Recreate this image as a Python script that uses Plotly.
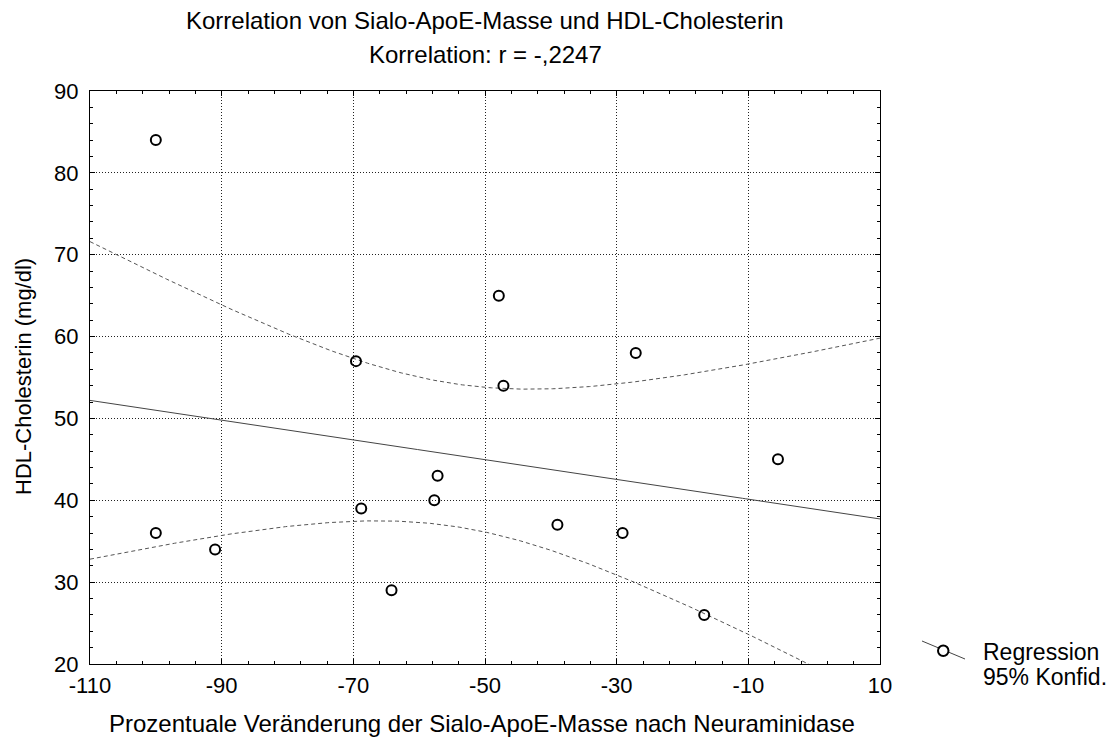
import numpy as np
import plotly.graph_objects as go

# Data
x_vals = [-100.0, -100.0, -91.0, -69.6, -68.8, -64.2, -57.7, -57.2, -47.9, -47.2, -39.0, -29.1, -27.1, -16.7, -5.5]
y_vals = [84, 36, 34, 57, 39, 29, 40, 43, 65, 54, 37, 36, 58, 26, 45]
x_ticks = [-110, -90, -70, -50, -30, -10, 10]
y_ticks = [20, 30, 40, 50, 60, 70, 80, 90]
title1 = "Korrelation von Sialo-ApoE-Masse und HDL-Cholesterin"
title2 = "Korrelation: r = -,2247"
x_title = "Prozentuale Veränderung der Sialo-ApoE-Masse nach Neuraminidase"
y_title = "HDL-Cholesterin (mg/dl)"
legend_labels = ["Regression", "95% Konfid."]

# Regression and 95% confidence band computed from the data
x = np.array(x_vals, dtype=float)
y = np.array(y_vals, dtype=float)
n = len(x)
xm, ym = x.mean(), y.mean()
sxx = ((x - xm) ** 2).sum()
sxy = ((x - xm) * (y - ym)).sum()
b = sxy / sxx
a = ym - b * xm
resid = y - (a + b * x)
s = np.sqrt((resid ** 2).sum() / (n - 2))
t_crit = 2.1604  # t(0.975, 13)
xs = np.linspace(x_ticks[0], x_ticks[-1], 300)
yhat = a + b * xs
half = t_crit * s * np.sqrt(1.0 / n + (xs - xm) ** 2 / sxx)

FONT = "Liberation Sans, Arial, Helvetica, sans-serif"
FS = 22

fig = go.Figure()
fig.add_trace(go.Scatter(x=xs, y=yhat + half, mode="lines",
                         line=dict(color="#555555", width=1, dash="4px,3px"), hoverinfo="skip"))
fig.add_trace(go.Scatter(x=xs, y=yhat - half, mode="lines",
                         line=dict(color="#555555", width=1, dash="4px,3px"), hoverinfo="skip"))
fig.add_trace(go.Scatter(x=xs, y=yhat, mode="lines",
                         line=dict(color="#444444", width=1), hoverinfo="skip"))
fig.add_trace(go.Scatter(x=x_vals, y=y_vals, mode="markers",
                         marker=dict(symbol="circle-open", size=10, color="black",
                                     line=dict(width=2, color="black"))))

axis_common = dict(
    showline=True, linecolor="black", linewidth=1, mirror="allticks",
    ticks="inside", ticklen=5, tickcolor="black",
    showgrid=True, gridcolor="#222222", griddash="1px,2px", gridwidth=1,
    zeroline=False, tickfont=dict(family=FONT, size=FS, color="black"),
)

fig.update_xaxes(range=[x_ticks[0], x_ticks[-1]], tickvals=x_ticks,
                 ticktext=[str(v) for v in x_ticks],
                 minor=dict(ticks="inside", ticklen=3, dtick=4, tick0=-110,
                            tickcolor="black", showgrid=False),
                 ticklabelstandoff=2,
                 **axis_common)
fig.update_yaxes(range=[y_ticks[0], y_ticks[-1]], tickvals=y_ticks,
                 minor=dict(ticks="inside", ticklen=3, dtick=2, tick0=20,
                            tickcolor="black", showgrid=False),
                 ticklabelstandoff=6,
                 **axis_common)

# The page body has an 8px margin, so the figure is offset by (8, 8)
OFF = 8
W, H = 1115 - OFF, 742 - OFF
L, R, T, B = 90 - OFF, 880 - OFF, 91 - OFF, 664 - OFF
pw, ph = R - L, B - T

def px_x(p):
    return (p - OFF - L) / pw

def px_y(p):
    return (B - (p - OFF)) / ph

def txt(text, xp, yp, anchor="center", size=FS, angle=0):
    return dict(text=text, x=px_x(xp), y=px_y(yp), xref="paper", yref="paper",
                showarrow=False, xanchor=anchor, yanchor="middle", textangle=angle,
                font=dict(family=FONT, size=size, color="black"))

ann = [
    txt(title1, 485, 20, size=24),
    txt(title2, 485, 55, size=24),
    txt(x_title, 482, 723, size=24),
    txt(y_title, 23, 377, angle=-90),
    txt(legend_labels[0], 981, 652, anchor="left", size=23),
    txt(legend_labels[1], 981, 677, anchor="left", size=23),
]

shapes = [
    dict(type="line", xref="paper", yref="paper",
         x0=px_x(922), y0=px_y(641), x1=px_x(965), y1=px_y(659),
         line=dict(color="#444444", width=1)),
    dict(type="circle", xref="paper", yref="paper",
         x0=px_x(938), y0=px_y(645.5), x1=px_x(948.5), y1=px_y(656),
         line=dict(color="black", width=2), fillcolor="white"),
]

fig.update_layout(
    width=W, height=H,
    margin=dict(l=L, r=W - R, t=T, b=H - B),
    paper_bgcolor="white", plot_bgcolor="white",
    showlegend=False,
    annotations=ann, shapes=shapes,
    font=dict(family=FONT, size=FS, color="black"),
)

fig.write_html("out.html")
